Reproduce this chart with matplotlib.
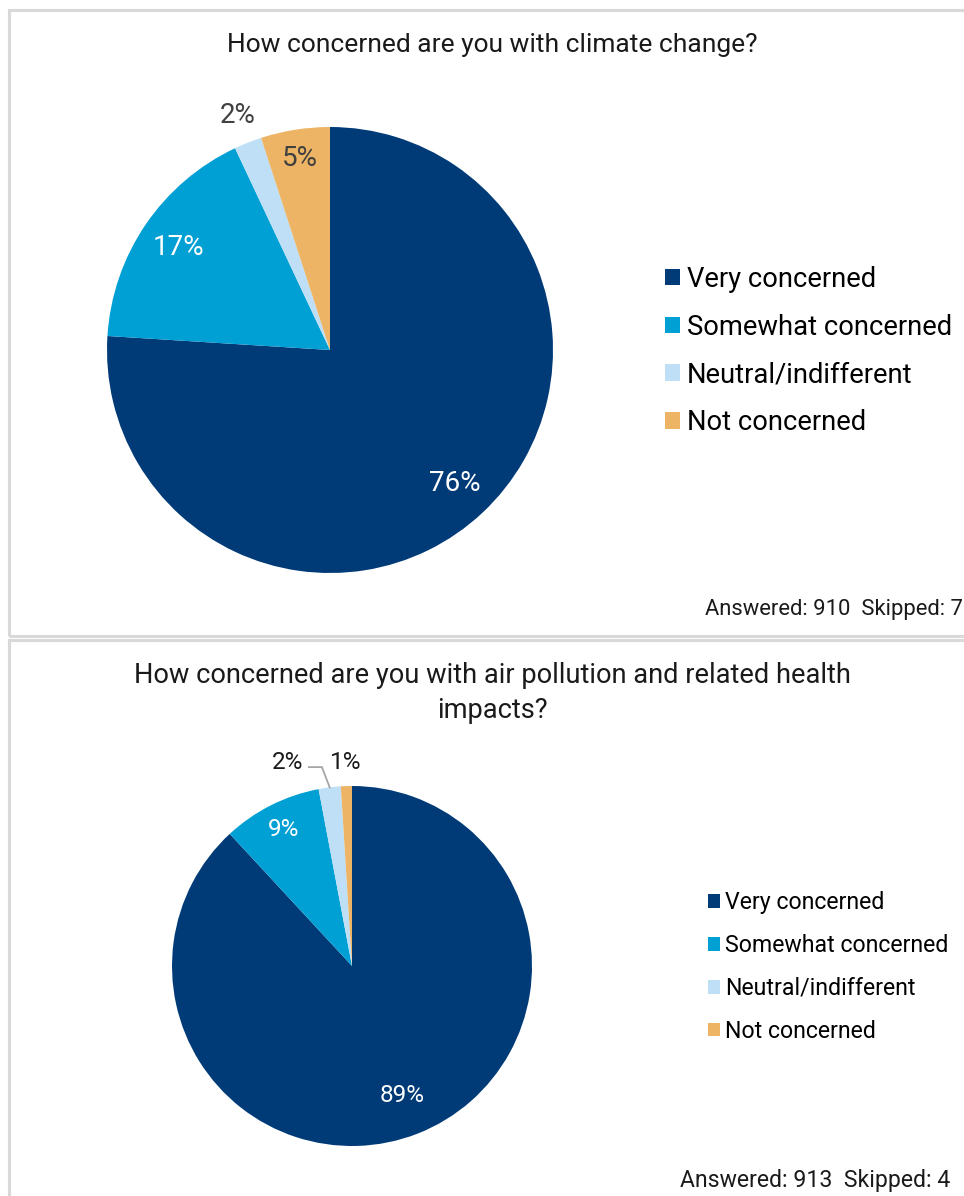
"""Survey results: concern about climate change and air pollution, as two pie charts."""
import numpy as np
import matplotlib
matplotlib.use("Agg")
import matplotlib.pyplot as plt
from matplotlib.patches import Rectangle

plt.rcParams["font.family"] = ["Roboto", "DejaVu Sans"]

W, H = 964, 1196

categories = ["Very concerned", "Somewhat concerned", "Neutral/indifferent", "Not concerned"]
colors = ["#003b78", "#009fd4", "#bedff5", "#ecb464"]

climate_pct = [76, 17, 2, 5]
climate_title = "How concerned are you with climate change?"
climate_note = "Answered: 910  Skipped: 7"

air_pct = [89, 9, 2, 1]
air_title = "How concerned are you with air pollution and related health\nimpacts?"
air_note = "Answered: 913  Skipped: 4"

fig = plt.figure(figsize=(W / 100, H / 100), dpi=100)


def px_box(cx, cy, r, pad=1.25):
    """Axes rect (fig fraction) for a pie of radius r px centred at (cx, cy) px from top-left."""
    half = r * pad
    return [(cx - half) / W, (H - cy - half) / H, 2 * half / W, 2 * half / H]


def panel(y0, y1):
    fig.patches.append(Rectangle((9 / W, 1 - y1 / H), 1.0, (y1 - y0) / H,
                                 transform=fig.transFigure, fill=False,
                                 edgecolor="#d9d9d9", linewidth=2.2))


def draw_pie(ax, values, label_dists, label_colors, label_size):
    wedges, _ = ax.pie(values, colors=colors, startangle=90, counterclock=False,
                       radius=1.0, wedgeprops=dict(linewidth=0))
    ax.set_xlim(-1.25, 1.25)
    ax.set_ylim(-1.25, 1.25)
    labels = []
    for w, v, d, c in zip(wedges, values, label_dists, label_colors):
        ang = np.deg2rad((w.theta1 + w.theta2) / 2)
        labels.append(ax.text(d * np.cos(ang), d * np.sin(ang), f"{v}%", ha="center",
                              va="center", color=c, fontsize=label_size))
    return wedges, labels


# --- climate change ---
panel(10, 636)
fig.text(492 / W, 1 - 45 / H, climate_title, ha="center", va="center", fontsize=19, color="#1a1a1a")
ax1 = fig.add_axes(px_box(330, 350, 223))
w1, _ = draw_pie(ax1, climate_pct, [0.82, 0.82, 1.13, 0.87],
                 ["white", "white", "#404040", "#404040"], 20)
ax1.legend(w1, categories, loc="center left", bbox_to_anchor=(651 / W, 1 - 351 / H),
           bbox_transform=fig.transFigure, frameon=False, fontsize=19.7,
           handlelength=0.55, handleheight=0.55, handletextpad=0.25, labelspacing=0.76,
           borderpad=0)
fig.text(963 / W, 1 - 610 / H, climate_note, ha="right", va="center", fontsize=15.8, color="#1a1a1a")

# --- air pollution ---
panel(640, 1220)
fig.text(492 / W, 1 - 693 / H, air_title, ha="center", va="center", fontsize=19.6,
         color="#1a1a1a", linespacing=1.4)
ax2 = fig.add_axes(px_box(352, 966, 180))
w2, t2 = draw_pie(ax2, air_pct, [0.77, 0.85, 1.2, 1.2],
                  ["white", "white", "#1a1a1a", "#1a1a1a"], 17.5)
# the two thin slices get their labels above the pie; 2% with a leader line
t2[2].set_position((-0.36, 1.133))
t2[3].set_position((-0.035, 1.133))
a2 = np.deg2rad((w2[2].theta1 + w2[2].theta2) / 2)
ax2.plot([np.cos(a2), -0.167, -0.24], [np.sin(a2), 1.105, 1.105],
         color="#a6a6a6", lw=1.3, clip_on=False, solid_joinstyle="miter")
ax2.legend(w2, categories, loc="center left", bbox_to_anchor=(696 / W, 1 - 967 / H),
           bbox_transform=fig.transFigure, frameon=False, fontsize=16.7,
           handlelength=0.52, handleheight=0.52, handletextpad=0.25, labelspacing=0.86,
           borderpad=0)
fig.text(950 / W, 1 - 1180 / H, air_note, ha="right", va="center", fontsize=16.6, color="#1a1a1a")

fig.savefig("out.png", dpi=100, facecolor="white")
